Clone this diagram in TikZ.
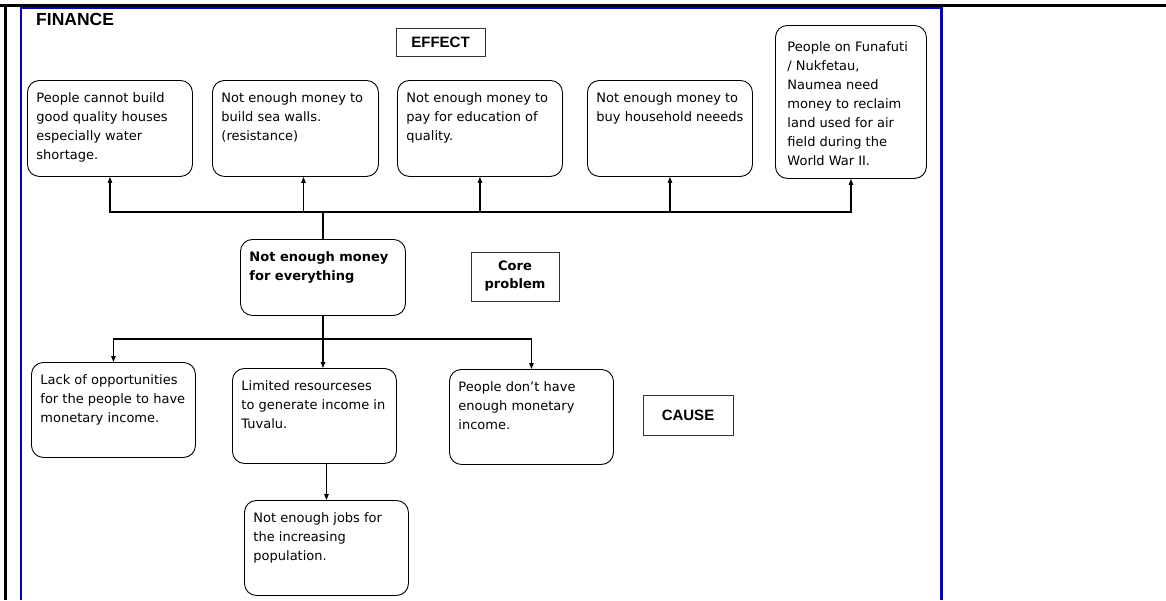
\documentclass[tikz,border=0pt]{standalone}
\usepackage{fontspec}
\setmainfont{DejaVu Sans}
\newfontfamily\headfont{Liberation Sans}
\usetikzlibrary{arrows.meta}

\definecolor{frameblue}{RGB}{0,0,205}

% text block of a rounded box: width and height of the whole box in pt
\newcommand\boxtext[3]{\parbox[t][\dimexpr#2pt-18pt\relax][t]{\dimexpr#1pt-18pt\relax}{\raggedright\rule{0pt}{13pt}#3}}

\tikzset{
  ebox/.style={draw=black, line width=0.9pt, rounded corners=12pt,
    inner xsep=9pt, inner ysep=9pt, anchor=north west,
    font=\fontsize{13}{19}\selectfont},
  tag/.style={draw=black!80, line width=0.9pt, inner sep=0pt, align=center},
  link/.style={line width=1.1pt},
  arr/.style={link, -{Triangle[length=6pt,width=4.5pt]}},
}

\begin{document}
\begin{tikzpicture}[x=1pt,y=-1pt]
\useasboundingbox (0,0) rectangle (1166,600);

% page rules and blue frame
\draw[line width=2.5pt] (0,5.3) -- (1166,5.3);
\draw[line width=2.5pt] (5.3,5.3) -- (5.3,600);
\draw[frameblue, line width=1.8pt] (20,7.7) -- (942,7.7);
\draw[frameblue, line width=2pt] (21,7.7) -- (21,600);
\draw[frameblue, line width=3pt] (941.5,7) -- (941.5,600);

% headings
\node[anchor=base west, inner sep=0pt, font=\headfont\bfseries\fontsize{17.5}{20}\selectfont] (title) at (36,25) {FINANCE};
\node[tag, minimum width=89pt, minimum height=28pt, font=\headfont\bfseries\fontsize{15}{18}\selectfont] (effect) at (440.5,42) {EFFECT};
\node[tag, minimum width=88pt, minimum height=49pt, font=\bfseries\fontsize{13}{18}\selectfont] (coretag) at (515,276.5) {Core\\problem};
\node[tag, minimum width=90pt, minimum height=40pt, font=\headfont\bfseries\fontsize{15}{18}\selectfont] (cause) at (688,415) {CAUSE};

% effects
\node[ebox] (e1) at (27,80) {\boxtext{165}{96}{People cannot build\\good quality houses\\especially water\\shortage.}};
\node[ebox] (e2) at (212,80) {\boxtext{166}{96}{Not enough money to\\build sea walls.\\(resistance)}};
\node[ebox] (e3) at (397,80) {\boxtext{165}{96}{Not enough money to\\pay for education of\\quality.}};
\node[ebox] (e4) at (587,80) {\boxtext{165}{96}{Not enough money to\\buy household neeeds}};
\node[ebox, inner xsep=12pt, inner ysep=12pt] (e5) at (775,25) {\parbox[t][129pt][t]{127pt}{\raggedright\rule{0pt}{14pt}People on Funafuti\\/ Nukfetau,\\Naumea need\\money to reclaim\\land used for air\\field during the\\World War II.}};

% core problem
\node[ebox, font=\bfseries\fontsize{13}{19}\selectfont] (core) at (240,239) {\boxtext{165}{76}{Not enough money\\for everything}};

% causes
\node[ebox] (c1) at (31,362) {\boxtext{164}{95}{Lack of opportunities\\for the people to have\\monetary income.}};
\node[ebox] (c2) at (232,368) {\boxtext{164}{95}{Limited resourceses\\to generate income in\\Tuvalu.}};
\node[ebox] (c3) at (449,369) {\boxtext{164}{95}{People don't have\\enough monetary\\income.}};
\node[ebox] (c4) at (244,500) {\boxtext{164}{95}{Not enough jobs for\\the increasing\\population.}};

% core problem -> effects
\coordinate (hub) at (320,212);
\coordinate (e2in) at ([xshift=8pt]e2.south);
\draw[link] (core.north) -- (core.north |- hub);
\draw[arr] (core.north |- hub) -| (e1.south);
\draw[arr] (core.north |- hub) -| (e2in);
\draw[arr] (core.north |- hub) -| (e3.south);
\draw[arr] (core.north |- hub) -| (e4.south);
\draw[arr] (core.north |- hub) -| (e5.south);

% core problem -> causes
\coordinate (split) at (0,339);
\draw[arr] (core.south) -- (core.south |- c2.north);
\draw[arr] (core.south |- split) -| (c1.north);
\draw[arr] (core.south |- split) -| (c3.north);
\draw[arr] (c4.north |- c2.south) -- (c4.north);
\end{tikzpicture}
\end{document}
